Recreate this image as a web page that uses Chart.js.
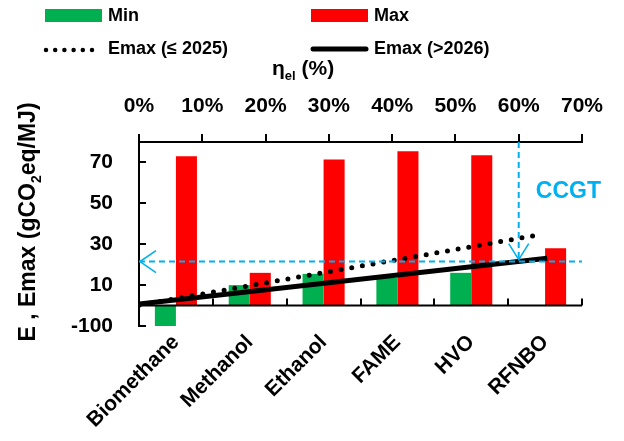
<!DOCTYPE html>
<html>
<head>
<meta charset="utf-8">
<script src="https://cdn.jsdelivr.net/npm/chart.js@4"></script>
<style>
  html, body { margin: 0; padding: 0; background: #fff; }
</style>
</head>
<body>
<canvas id="chart" width="624" height="441"></canvas>
<script>
// categories + bar values (gCO2eq/MJ)
const categories = ['Biomethane', 'Methanol', 'Ethanol', 'FAME', 'HVO', 'RFNBO'];
const minVals = [-10, 10, 15.5, 13.5, 16, null];
const maxVals = [73, 16, 71.5, 75.5, 73.5, 28];

// Emax vs electrical efficiency (top axis, %)
const etaOld = [0, 63];
const emaxOld = [0.2, 34.5];
const etaNew = [0, 64.5];
const emaxNew = [0.8, 23.1];

// CCGT reference lines
const ccgtHEta = [0, 70];
const ccgtHE = [21.5, 21.5];
const ccgtVEta = [60, 60];
const ccgtVE = [80, 22.5];

// axis ticks
const etaMin = 0, etaMax = 70, etaStep = 10;
const yTickVals = [-10, 10, 30, 50, 70];
const yTickLabels = ['-100', '10', '30', '50', '70'];

const GREEN = '#00B050', RED = '#FF0000', BLUE = '#00B0F0';
const FONT = "'Liberation Sans', Arial, sans-serif";
Chart.defaults.font.family = FONT;
Chart.defaults.color = '#000';

function pts(xs, ys){ return xs.map((x, i) => ({ x: x, y: ys[i] })); }

// draws a run of text pieces, some as subscripts; returns total width
function richText(ctx, parts, x, y, size, measureOnly){
    let w = 0;
    parts.forEach(p => {
        const s = p.sub ? Math.round(size * 0.62) : size;
        ctx.font = 'bold ' + s + 'px ' + FONT;
        if (!measureOnly) ctx.fillText(p.t, x + w, y + (p.sub ? size * 0.25 : 0));
        w += ctx.measureText(p.t).width;
    });
    return w;
}

const decorPlugin = {
    id: 'decor',
    // horizontal axis crossing at E = 0, drawn over the bars
    afterDatasetDraw(chart, args){
        if (args.index !== 1) return;
        const ctx = chart.ctx, sx = chart.scales.x, sy = chart.scales.y;
        const y0 = sy.getPixelForValue(0);
        ctx.save();
        ctx.strokeStyle = '#000'; ctx.lineWidth = 2;
        ctx.beginPath();
        ctx.moveTo(chart.chartArea.left, y0); ctx.lineTo(chart.chartArea.right, y0);
        for (let i = 0; i <= categories.length; i++) {
            const px = Math.round(sx.getPixelForValue(i - 0.5));
            ctx.moveTo(px, y0); ctx.lineTo(px, y0 - 7);
        }
        ctx.stroke();
        ctx.restore();
    },
    afterDatasetsDraw(chart){
        const ctx = chart.ctx;
        const sx = chart.scales.x2, sy = chart.scales.y;
        ctx.save();
        // arrow heads on the CCGT lines
        ctx.strokeStyle = BLUE; ctx.lineWidth = 1.6;
        const hx = sx.getPixelForValue(ccgtHEta[0]), hy = sy.getPixelForValue(ccgtHE[0]);
        ctx.beginPath();
        ctx.moveTo(hx + 17, hy - 11); ctx.lineTo(hx + 1, hy); ctx.lineTo(hx + 17, hy + 11);
        ctx.stroke();
        const vx = sx.getPixelForValue(ccgtVEta[1]), vy = sy.getPixelForValue(ccgtVE[1]);
        ctx.beginPath();
        ctx.moveTo(vx - 10, vy - 16); ctx.lineTo(vx, vy); ctx.lineTo(vx + 10, vy - 16);
        ctx.stroke();
        // CCGT label
        ctx.fillStyle = BLUE;
        ctx.font = 'bold 23px ' + FONT;
        ctx.textBaseline = 'middle'; ctx.textAlign = 'left';
        ctx.fillText('CCGT', sx.getPixelForValue(62.7), sy.getPixelForValue(55.5));
        ctx.restore();
    },
    afterDraw(chart){
        const ctx = chart.ctx;
        ctx.save();
        ctx.textBaseline = 'middle'; ctx.textAlign = 'left';
        // legend
        ctx.fillStyle = GREEN; ctx.fillRect(45, 9, 57, 13);
        ctx.fillStyle = RED; ctx.fillRect(311, 9, 57, 13);
        ctx.fillStyle = '#000';
        ctx.font = 'bold 18px ' + FONT;
        ctx.fillText('Min', 108, 16);
        ctx.fillText('Max', 374, 16);
        ctx.fillText('Emax (\u2264 2025)', 108, 49);
        ctx.fillText('Emax (>2026)', 374, 49);
        ctx.strokeStyle = '#000'; ctx.lineCap = 'round';
        ctx.lineWidth = 4.5; ctx.setLineDash([0, 9.2]);
        ctx.beginPath(); ctx.moveTo(46, 50); ctx.lineTo(101, 50); ctx.stroke();
        ctx.setLineDash([]); ctx.lineWidth = 5;
        ctx.beginPath(); ctx.moveTo(313, 49); ctx.lineTo(366, 49); ctx.stroke();

        // top axis title: eta_el (%)
        ctx.textBaseline = 'alphabetic';
        richText(ctx, [{ t: '\u03B7' }, { t: 'el', sub: true }, { t: ' (%)' }], 272, 75, 21);

        // y axis title, rotated
        const yParts = [{ t: 'E , Emax (gCO' }, { t: '2', sub: true }, { t: 'eq/MJ)' }];
        ctx.translate(27, 222);
        ctx.rotate(-Math.PI / 2);
        const w = richText(ctx, yParts, 0, 0, 23, true);
        richText(ctx, yParts, -w / 2, 8, 23);
        ctx.restore();
    }
};

const axisLine = { color: '#000', width: 2 };

// note: Chart.js 4.5 splits each category slot by the number of distinct x axes
// used by the datasets; listing a top-axis line first keeps the bar pair centred
new Chart(document.getElementById('chart'), {
    type: 'bar',
    data: {
        labels: categories,
        datasets: [
            { type: 'line', label: 'Emax (>2026)', data: pts(etaNew, emaxNew), xAxisID: 'x2', yAxisID: 'y',
              borderColor: '#000', borderWidth: 5, pointRadius: 0, order: 1 },
            { label: 'Min', data: minVals, backgroundColor: GREEN, xAxisID: 'x', yAxisID: 'y', order: 3,
              categoryPercentage: 1.14, barPercentage: 1 },
            { label: 'Max', data: maxVals, backgroundColor: RED, xAxisID: 'x', yAxisID: 'y', order: 3,
              categoryPercentage: 1.14, barPercentage: 1 },
            { type: 'line', label: 'Emax (\u2264 2025)', data: pts(etaOld, emaxOld), xAxisID: 'x2', yAxisID: 'y',
              borderColor: '#000', borderWidth: 5, borderDash: [0, 10.8], borderCapStyle: 'round',
              pointRadius: 0, order: 1 },
            { type: 'line', label: 'CCGT h', data: pts(ccgtHEta, ccgtHE), xAxisID: 'x2', yAxisID: 'y',
              borderColor: BLUE, borderWidth: 2, borderDash: [6, 4], pointRadius: 0, order: 0 },
            { type: 'line', label: 'CCGT v', data: pts(ccgtVEta, ccgtVE), xAxisID: 'x2', yAxisID: 'y',
              borderColor: BLUE, borderWidth: 2, borderDash: [6, 4], pointRadius: 0, order: 0 }
        ]
    },
    options: {
        responsive: false,
        animation: false,
        layout: { padding: { left: 0, right: 42, top: 0, bottom: 0 } },
        plugins: { legend: { display: false }, tooltip: { enabled: false } },
        scales: {
            x: {
                type: 'category', position: 'bottom',
                grid: { display: false, drawTicks: false },
                border: { display: false },
                ticks: { font: { size: 21, weight: 'bold' }, color: '#000', minRotation: 45, maxRotation: 45,
                         autoSkip: false, padding: 4 },
                afterFit(s){ s.height = 115; }
            },
            x2: {
                type: 'linear', position: 'top', min: etaMin, max: etaMax, offset: false,
                grid: { drawOnChartArea: false, offset: false, tickLength: 8, color: '#000', lineWidth: 2 },
                border: axisLine,
                ticks: { stepSize: etaStep, font: { size: 21, weight: 'bold' }, color: '#000', padding: 15,
                         callback: v => v + '%' },
                afterFit(s){ s.height = 142; }
            },
            y: {
                min: -10, max: 80,
                grid: { drawOnChartArea: false, tickLength: -7, color: '#000', lineWidth: 2 },
                border: axisLine,
                ticks: { font: { size: 21, weight: 'bold' }, color: '#000', padding: 33,
                         callback: (v, i) => yTickLabels[i] },
                afterBuildTicks(s){ s.ticks = yTickVals.map(v => ({ value: v })); },
                afterFit(s){ s.width = 139; }
            }
        }
    },
    plugins: [decorPlugin]
});
</script>
</body>
</html>
